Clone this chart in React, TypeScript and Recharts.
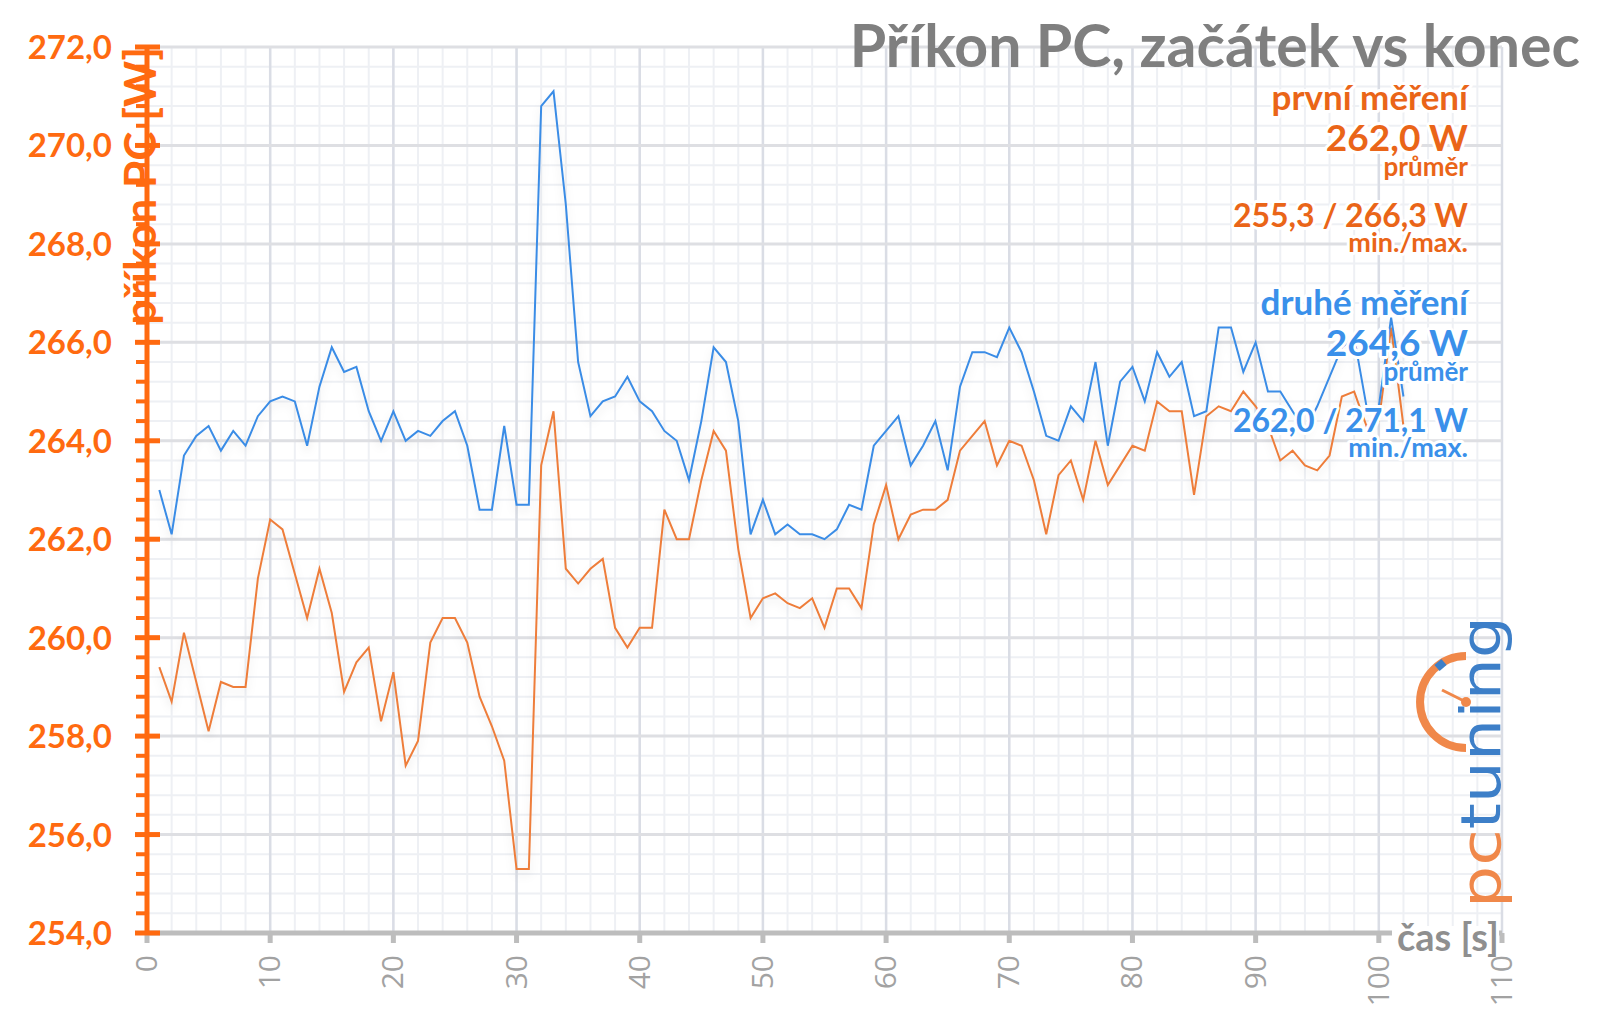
import { LineChart, Line, XAxis, YAxis, CartesianGrid, ReferenceLine } from 'recharts';

// příkon [W] v každé sekundě měření (t = 1..102 s)
const FIRST_RUN = [
  259.4, 258.7, 260.1, 259.1, 258.1, 259.1, 259.0, 259.0, 261.2, 262.4,
  262.2, 261.3, 260.4, 261.4, 260.5, 258.9, 259.5, 259.8, 258.3, 259.3,
  257.4, 257.9, 259.9, 260.4, 260.4, 259.9, 258.8, 258.2, 257.5, 255.3,
  255.3, 263.5, 264.6, 261.4, 261.1, 261.4, 261.6, 260.2, 259.8, 260.2,
  260.2, 262.6, 262.0, 262.0, 263.2, 264.2, 263.8, 261.8, 260.4, 260.8,
  260.9, 260.7, 260.6, 260.8, 260.2, 261.0, 261.0, 260.6, 262.3, 263.1,
  262.0, 262.5, 262.6, 262.6, 262.8, 263.8, 264.1, 264.4, 263.5, 264.0,
  263.9, 263.2, 262.1, 263.3, 263.6, 262.8, 264.0, 263.1, 263.5, 263.9,
  263.8, 264.8, 264.6, 264.6, 262.9, 264.5, 264.7, 264.6, 265.0, 264.7,
  264.3, 263.6, 263.8, 263.5, 263.4, 263.7, 264.9, 265.0, 264.3, 264.4,
  266.3, 264.3,
];

const SECOND_RUN = [
  263.0, 262.1, 263.7, 264.1, 264.3, 263.8, 264.2, 263.9, 264.5, 264.8,
  264.9, 264.8, 263.9, 265.1, 265.9, 265.4, 265.5, 264.6, 264.0, 264.6,
  264.0, 264.2, 264.1, 264.4, 264.6, 263.9, 262.6, 262.6, 264.3, 262.7,
  262.7, 270.8, 271.1, 268.8, 265.6, 264.5, 264.8, 264.9, 265.3, 264.8,
  264.6, 264.2, 264.0, 263.2, 264.4, 265.9, 265.6, 264.4, 262.1, 262.8,
  262.1, 262.3, 262.1, 262.1, 262.0, 262.2, 262.7, 262.6, 263.9, 264.2,
  264.5, 263.5, 263.9, 264.4, 263.4, 265.1, 265.8, 265.8, 265.7, 266.3,
  265.8, 265.0, 264.1, 264.0, 264.7, 264.4, 265.6, 263.9, 265.2, 265.5,
  264.8, 265.8, 265.3, 265.6, 264.5, 264.6, 266.3, 266.3, 265.4, 266.0,
  265.0, 265.0, 264.6, 264.2, 264.7, 265.3, 265.9, 266.1, 264.7, 264.7,
  266.5, 264.9,
];

const X_LABELS = [0, 10, 20, 30, 40, 50, 60, 70, 80, 90, 100, 110];
const Y_LABELS = [254, 256, 258, 260, 262, 264, 266, 268, 270, 272];

const FIRST_SUMMARY = ['první měření', '262,0 W', 'průměr', '255,3 / 266,3 W', 'min./max.'];
const SECOND_SUMMARY = ['druhé měření', '264,6 W', 'průměr', '262,0 / 271,1 W', 'min./max.'];

// vedlejší dělení: osa x po 2 s, osa y po 0,4 W
const X_TICKS = X_LABELS.flatMap((v, i) =>
  i === X_LABELS.length - 1 ? [v] : [0, 2, 4, 6, 8].map((k) => v + k)
);
const Y_TICKS = Y_LABELS.flatMap((v, i) =>
  i === Y_LABELS.length - 1 ? [v] : [0, 1, 2, 3, 4].map((k) => Math.round((v + k * 0.4) * 10) / 10)
);

const data = FIRST_RUN.map((v, i) => ({ t: i + 1, first: v, second: SECOND_RUN[i] }));

const AXIS_ORANGE = '#FF6A10';
const TEXT_ORANGE = '#EA6518';
const TEXT_BLUE = '#3A90EA';
const LINE_ORANGE = '#EE7D3A';
const LINE_BLUE = '#3A8CE6';
const FONT = 'Lato, "Open Sans", sans-serif';

function YTick({ x, y, payload }: any) {
  const v = payload.value as number;
  const major = Y_LABELS.includes(v);
  return (
    <g>
      <line
        x1={major ? x - 12 : x - 11}
        x2={major ? x + 13 : x}
        y1={y}
        y2={y}
        stroke={AXIS_ORANGE}
        strokeWidth={major ? 5 : 4}
      />
      {major && (
        <text x={x - 35} y={y + 12} textAnchor="end" fontSize={33} fontWeight={700} fill={AXIS_ORANGE} fontFamily={FONT}>
          {v.toFixed(1).replace('.', ',')}
        </text>
      )}
    </g>
  );
}

function XTick({ x, y, payload }: any) {
  const v = payload.value as number;
  if (!X_LABELS.includes(v)) return <g />;
  return (
    <g>
      <line x1={x} x2={x} y1={y} y2={y + 10} stroke="#BDBDBD" strokeWidth={5} />
      <text
        transform={`translate(${x + 10},${y + 22}) rotate(-90)`}
        textAnchor="end"
        fontSize={30}
        fill="#A2A2A2"
        fontFamily='"Open Sans", sans-serif'
      >
        {v}
      </text>
    </g>
  );
}

function Summary({ lines, color, top }: { lines: string[]; color: string; top: number }) {
  const rows = [
    { dy: 0, size: 35 },
    { dy: 41, size: 37 },
    { dy: 66, size: 26 },
    { dy: 117, size: 32 },
    { dy: 142, size: 27 },
  ];
  return (
    <g>
      {lines.map((s, i) => (
        <text
          key={i}
          x={1460}
          y={top + rows[i].dy}
          textAnchor="end"
          fontSize={rows[i].size}
          fontWeight={700}
          fill={color}
          stroke="#fff"
          strokeWidth={6}
          strokeLinejoin="round"
          paintOrder="stroke"
          fontFamily={FONT}
        >
          {s}
        </text>
      ))}
    </g>
  );
}

export default function App() {
  return (
    <div style={{ position: 'relative', width: 1584, height: 1000 }}>
      <style>{`.recharts-line-curve{filter:drop-shadow(0 5px 4px rgba(0,0,0,0.10));}`}</style>
      <LineChart width={1584} height={1000} data={data} margin={{ top: 39, right: 90, left: 0, bottom: 15 }}>
        <CartesianGrid stroke="#EEF0F4" strokeWidth={2} />
        {X_LABELS.map((v) => (
          <ReferenceLine key={`x${v}`} x={v} stroke="#DADDE5" strokeWidth={2.5} />
        ))}
        {Y_LABELS.map((v) => (
          <ReferenceLine key={`y${v}`} y={v} stroke="#DEDFE3" strokeWidth={3} />
        ))}
        <XAxis
          dataKey="t"
          type="number"
          domain={[0, 110]}
          ticks={X_TICKS}
          interval={0}
          tick={<XTick />}
          tickLine={false}
          tickSize={0}
          tickMargin={0}
          height={60}
          axisLine={{ stroke: '#BDBDBD', strokeWidth: 5 }}
        />
        <YAxis
          type="number"
          domain={[254, 272]}
          ticks={Y_TICKS}
          interval={0}
          tick={<YTick />}
          tickLine={false}
          tickSize={0}
          tickMargin={0}
          width={139}
          axisLine={{ stroke: AXIS_ORANGE, strokeWidth: 5 }}
        />
        <Line type="linear" dataKey="first" stroke={LINE_ORANGE} strokeWidth={2} dot={false} isAnimationActive={false} />
        <Line type="linear" dataKey="second" stroke={LINE_BLUE} strokeWidth={2} dot={false} isAnimationActive={false} />
      </LineChart>

      <svg width={1584} height={1000} style={{ position: 'absolute', left: 0, top: 0, pointerEvents: 'none' }}>
        <text x={1572} y={59} textAnchor="end" fontSize={59} fontWeight={700} fill="#7F7F7F" fontFamily={FONT}>
          Příkon PC, začátek vs konec
        </text>
        <text
          transform="translate(148,39) rotate(-90)"
          textAnchor="end"
          fontSize={44}
          fontWeight={700}
          fill={AXIS_ORANGE}
          fontFamily={FONT}
        >
          příkon PC [W]
        </text>
        <Summary lines={FIRST_SUMMARY} color={TEXT_ORANGE} top={102} />
        <Summary lines={SECOND_SUMMARY} color={TEXT_BLUE} top={307} />

        <rect x={1384} y={918} width={107} height={16} fill="#fff" />
        <text x={1389} y={943} fontSize={38} fontWeight={700} fill="#8F8F8F" fontFamily={FONT}>
          čas [s]
        </text>

        {/* logo */}
        <path d="M1458 648 A46 46 0 0 0 1458 740" fill="none" stroke="#F0884A" strokeWidth={8} />
        <path d="M1429 660 L1436 654" stroke="#3D7FC8" strokeWidth={8} />
        <line x1={1434} y1={682} x2={1458} y2={694} stroke="#F0884A" strokeWidth={3} />
        <circle cx={1458} cy={694} r={5} fill="#F0884A" />
        <text
          transform="translate(1492,900) rotate(-90)"
          textLength={292}
          lengthAdjust="spacingAndGlyphs"
          fontSize={56}
          fontWeight={400}
          fontFamily='"DejaVu Sans", sans-serif'
        >
          <tspan fill="#F0884A">pc</tspan>
          <tspan fill="#3D7FC8">tuning</tspan>
        </text>
      </svg>
    </div>
  );
}
